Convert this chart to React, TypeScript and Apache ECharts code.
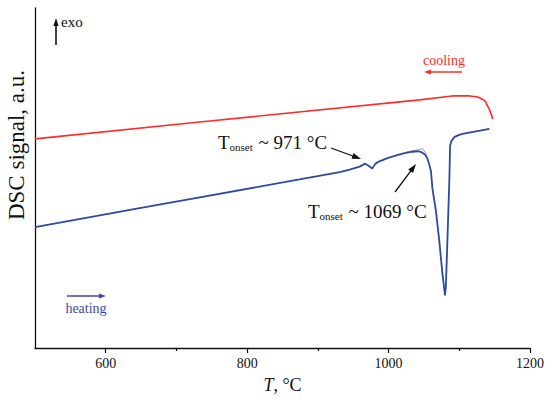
import React, { useEffect, useRef } from "react";
import * as echarts from "echarts";

// Temperature (°C) and DSC signal (a.u.)
const heatingT = [500, 648, 733, 874, 931, 945, 959, 967, 971, 977, 981.5, 987, 998.5, 1011, 1022.5, 1034, 1041, 1046.6, 1052, 1055, 1058, 1060, 1062, 1067, 1072, 1076, 1079.8, 1081, 1083, 1086, 1087, 1089, 1093, 1098, 1104.5, 1142.7];
const heatingV = [122, 141, 152, 170, 177.5, 180, 183, 186, 184, 181, 186, 188.3, 191.5, 194.3, 196.7, 198, 198.5, 197.5, 195, 191, 184, 178, 161, 138, 106, 76, 53, 62, 104, 171, 204, 209, 212.7, 214.5, 216, 221];

const coolingT = [500, 733, 1044, 1090, 1115, 1126, 1133, 1137, 1140, 1143, 1146, 1147];
const coolingV = [211, 228, 250.3, 254.3, 254.3, 253.2, 251, 248.5, 244.3, 240, 234.3, 231];

const tangentT = [1025, 1048.4, 1053];
const tangentV = [197.7, 201, 196];

const xMajor = [600, 800, 1000, 1200];
const xMinor = [700, 900, 1100];

const FONT = "Liberation Serif";

function arrow(x1: number, y1: number, x2: number, y2: number, color: string, hl = 8, hw = 3.2, lw = 1.3) {
  const dx = x2 - x1, dy = y2 - y1;
  const len = Math.sqrt(dx * dx + dy * dy);
  const ux = dx / len, uy = dy / len;
  const bx = x2 - ux * hl, by = y2 - uy * hl;
  const px = -uy, py = ux;
  return [
    { type: "line", shape: { x1, y1, x2: bx + ux * 1, y2: by + uy * 1 }, style: { stroke: color, lineWidth: lw } },
    {
      type: "polygon",
      shape: { points: [[x2, y2], [bx + px * hw, by + py * hw], [bx - px * hw, by - py * hw]] },
      style: { fill: color },
    },
  ];
}

function onsetText(x: number, y: number, rest: string) {
  return {
    type: "text",
    x,
    y,
    style: {
      text: `{t|T}{s|onset}{t|${rest}}`,
      rich: {
        t: { fontFamily: FONT, fontSize: 19, fill: "#111", lineHeight: 22, verticalAlign: "bottom" },
        s: { fontFamily: FONT, fontSize: 11, fill: "#111", lineHeight: 15, verticalAlign: "bottom", padding: [0, 1, 0, 0] },
      },
    },
  };
}

export default function App() {
  const ref = useRef<HTMLDivElement>(null);
  useEffect(() => {
    document.body.style.margin = "0";
    if (!ref.current) return;
    const chart = echarts.init(ref.current, undefined, { renderer: "svg" });
    const heating = heatingT.map((t, i) => [t, heatingV[i]]);
    const cooling = coolingT.map((t, i) => [t, coolingV[i]]);
    const tangent = tangentT.map((t, i) => [t, tangentV[i]]);
    chart.setOption({
      animation: false,
      backgroundColor: "#fff",
      grid: { left: 35, right: 20, top: 8, bottom: 48 },
      xAxis: [
        {
          type: "value",
          min: 500,
          max: 1200,
          interval: 100,
          name: "{i|T}{n|, °C}",
          nameLocation: "middle",
          nameGap: 28,
          nameTextStyle: {
            rich: {
              i: { fontFamily: FONT, fontSize: 18, fontStyle: "italic", color: "#111" },
              n: { fontFamily: FONT, fontSize: 18, color: "#111" },
            },
          },
          axisLine: { show: true, lineStyle: { color: "#111", width: 1.3 } },
          axisTick: { show: true, length: 5, lineStyle: { color: "#111", width: 1.2 }, customValues: xMajor },
          axisLabel: {
            customValues: xMajor,
            formatter: (v: number) => String(v),
            fontFamily: FONT,
            fontSize: 14,
            color: "#111",
            margin: 8,
          },
          splitLine: { show: false },
        },
        {
          type: "value",
          min: 500,
          max: 1200,
          interval: 100,
          position: "bottom",
          axisLine: { show: false },
          axisTick: { show: true, length: 3, lineStyle: { color: "#111", width: 1.2 }, customValues: xMinor },
          axisLabel: { show: false },
          splitLine: { show: false },
        },
      ],
      yAxis: {
        type: "value",
        min: 0,
        max: 343,
        axisLine: { show: true, lineStyle: { color: "#111", width: 1.3 } },
        axisTick: { show: false },
        axisLabel: { show: false },
        splitLine: { show: false },
      },
      series: [
        {
          type: "line",
          data: tangent,
          showSymbol: false,
          lineStyle: { color: "#999", width: 0.9 },
          z: 1,
        },
        {
          type: "line",
          data: cooling,
          showSymbol: false,
          lineStyle: { color: "#ff2b2b", width: 1.6 },
          z: 2,
        },
        {
          type: "line",
          data: heating,
          showSymbol: false,
          lineStyle: { color: "#2d4b9e", width: 1.8 },
          z: 3,
        },
      ],
      graphic: [
        {
          type: "text",
          x: 16,
          y: 145,
          rotation: Math.PI / 2,
          style: {
            text: "DSC signal, a.u.",
            fontFamily: FONT,
            fontSize: 23,
            fill: "#111",
            align: "center",
            verticalAlign: "middle",
          },
        },
        ...arrow(56, 45, 56, 18, "#111", 8, 2.6, 1.6),
        {
          type: "text",
          x: 61,
          y: 22,
          style: { text: "exo", fontFamily: FONT, fontSize: 15, fill: "#111", verticalAlign: "middle" },
        },
        {
          type: "text",
          x: 444,
          y: 60,
          style: { text: "cooling", fontFamily: FONT, fontSize: 14, fill: "#ff2b2b", align: "center", verticalAlign: "middle" },
        },
        ...arrow(462, 72, 424, 72, "#ff2b2b", 7, 2.5, 1.5),
        ...arrow(67, 296, 106, 296, "#3b47a8", 7, 2.5, 1.5),
        {
          type: "text",
          x: 86,
          y: 308,
          style: { text: "heating", fontFamily: FONT, fontSize: 14, fill: "#3b47a8", align: "center", verticalAlign: "middle" },
        },
        onsetText(218, 130, " ~ 971 °C"),
        ...arrow(331, 148, 361, 159, "#111", 9, 3, 1.3),
        onsetText(308, 199, " ~ 1069 °C"),
        ...arrow(395, 192, 416, 164, "#111", 9, 3, 1.3),
      ],
    });
    return () => chart.dispose();
  }, []);
  return <div ref={ref} style={{ width: 550, height: 399 }} />;
}
